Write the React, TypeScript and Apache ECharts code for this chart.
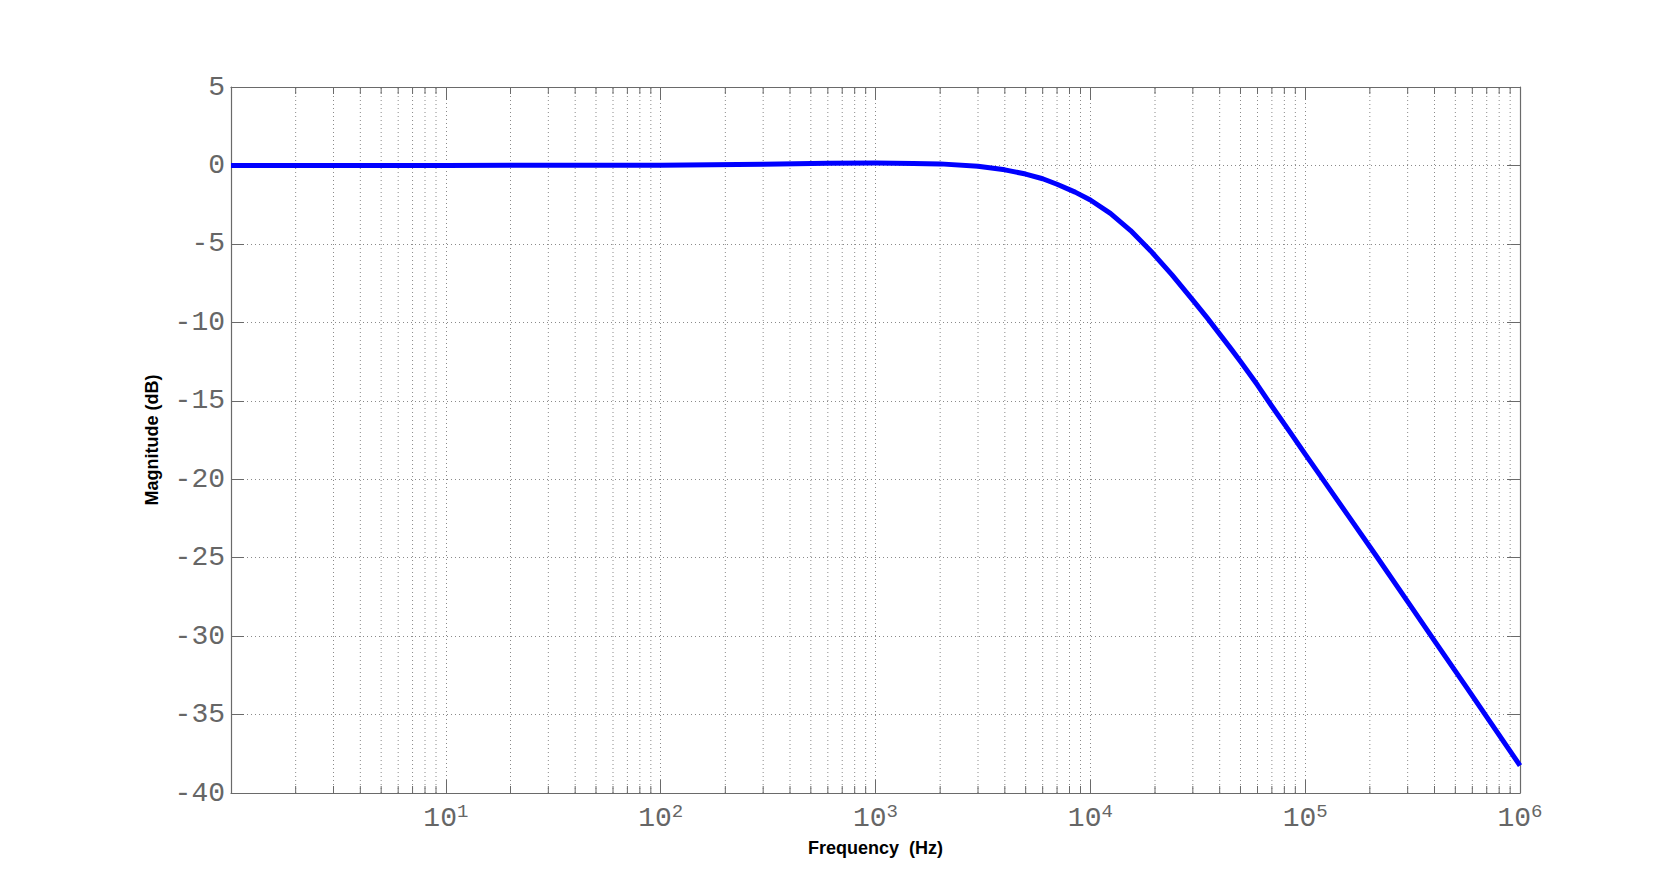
import React, { useEffect, useRef } from "react";
import * as echarts from "echarts";

// Frequency (Hz) and magnitude (dB)
const freqs = [1, 10, 100, 300, 600, 1000, 1500, 2000, 3000, 4000, 5000, 6000, 7000, 8500, 10000, 12400, 15400, 19100, 24000, 30000, 35000, 40000, 45000, 50000, 60000, 70000, 85000, 100000, 125000, 160000, 212000, 300000, 400000, 560000, 700000, 1000000];
const magnitudes = [0, 0, 0.02, 0.08, 0.14, 0.15, 0.13, 0.1, -0.05, -0.28, -0.55, -0.85, -1.2, -1.7, -2.2, -3.05, -4.15, -5.45, -6.97, -8.58, -9.72, -10.75, -11.66, -12.5, -14.0, -15.35, -17.0, -18.4, -20.3, -22.4, -24.8, -27.8, -30.3, -33.2, -35.15, -38.25];

// Minor log ticks
const decades = [1, 10, 100, 1000, 10000, 100000];
const mantissas = [2, 3, 4, 5, 6, 7, 8, 9];
const minorTicks: number[] = [];
decades.forEach((d) => mantissas.forEach((m) => minorTicks.push(m * d)));

const Y_MIN = -40;
const Y_MAX = 5;
const Y_STEP = 5;

const AXIS_COLOR = "#6a6a6a";
const GRID_COLOR = "#8a8a8a";
const LABEL_COLOR = "#666666";
const MONO = "'Liberation Mono', 'DejaVu Sans Mono', monospace";
const SANS = "'Liberation Sans', Arial, sans-serif";

export default function App() {
  const ref = useRef<HTMLDivElement>(null);
  useEffect(() => {
    if (!ref.current) return;
    const chart = echarts.init(ref.current, undefined, { renderer: "svg" });
    const gridDash = { color: GRID_COLOR, width: 1, type: [1, 3] as any };
    const xBase: any = {
      type: "log",
      logBase: 10,
      min: 1,
      max: 1e6,
      axisLine: { show: true, onZero: false, lineStyle: { color: AXIS_COLOR, width: 1.2 } },
      axisTick: { show: true, inside: true, length: 13, lineStyle: { color: AXIS_COLOR, width: 1 } },
    };
    const yBase: any = {
      type: "value",
      min: Y_MIN,
      max: Y_MAX,
      interval: Y_STEP,
      axisLine: { show: true, onZero: false, lineStyle: { color: AXIS_COLOR, width: 1.2 } },
      axisTick: { show: true, inside: true, length: 13, lineStyle: { color: AXIS_COLOR, width: 1 } },
    };
    const option: any = {
      animation: false,
      backgroundColor: "#ffffff",
      grid: { left: 231, top: 87, right: 160, bottom: 98, containLabel: false },
      xAxis: [
        {
          ...xBase,
          position: "bottom",
          name: "Frequency  (Hz)",
          nameLocation: "middle",
          nameGap: 46,
          nameTextStyle: { fontFamily: SANS, fontWeight: "bold", fontSize: 18, color: "#000" },
          splitLine: { show: true, lineStyle: gridDash },
          axisLabel: {
            show: true,
            margin: 9,
            formatter: (v: number) => {
              const e = Math.round(Math.log10(v));
              if (e <= 0) return "";
              return `{b|10}{s|${e}}`;
            },
            rich: {
              b: { fontFamily: MONO, fontSize: 28, color: LABEL_COLOR, lineHeight: 30, verticalAlign: "bottom" },
              s: { fontFamily: MONO, fontSize: 19, color: LABEL_COLOR, lineHeight: 20, verticalAlign: "top" },
            },
          },
        },
        {
          ...xBase,
          position: "top",
          splitLine: { show: false },
          axisLabel: { show: false },
        },
      ],
      yAxis: [
        {
          ...yBase,
          position: "left",
          name: "Magnitude (dB)",
          nameLocation: "middle",
          nameGap: 70,
          nameTextStyle: { fontFamily: SANS, fontWeight: "bold", fontSize: 18, color: "#000" },
          splitLine: { show: true, lineStyle: gridDash },
          axisLabel: { show: true, margin: 6, fontFamily: MONO, fontSize: 28, color: LABEL_COLOR },
        },
        {
          ...yBase,
          position: "right",
          splitLine: { show: false },
          axisLabel: { show: false },
        },
      ],
      series: [
        {
          type: "custom",
          xAxisIndex: 0,
          yAxisIndex: 0,
          silent: true,
          clip: false,
          z: 1,
          data: minorTicks.map((f) => [f]),
          renderItem: (params: any, api: any) => {
            const f = api.value(0);
            const bottom = api.coord([f, Y_MIN]);
            const top = api.coord([f, Y_MAX]);
            return {
              type: "group",
              children: [
                {
                  type: "line",
                  shape: { x1: bottom[0], y1: bottom[1], x2: top[0], y2: top[1] },
                  style: { stroke: GRID_COLOR, lineWidth: 1, lineDash: [1, 3] },
                },
                {
                  type: "line",
                  shape: { x1: bottom[0], y1: bottom[1], x2: bottom[0], y2: bottom[1] - 7 },
                  style: { stroke: AXIS_COLOR, lineWidth: 1 },
                },
                {
                  type: "line",
                  shape: { x1: top[0], y1: top[1], x2: top[0], y2: top[1] + 7 },
                  style: { stroke: AXIS_COLOR, lineWidth: 1 },
                },
              ],
            };
          },
        },
        {
          type: "line",
          xAxisIndex: 0,
          yAxisIndex: 0,
          data: freqs.map((f, i) => [f, magnitudes[i]]),
          smooth: false,
          showSymbol: false,
          symbol: "none",
          z: 5,
          lineStyle: { color: "#0000ff", width: 5, join: "round" },
        },
      ],
    };
    chart.setOption(option);
    return () => chart.dispose();
  }, []);
  return (
    <div
      ref={ref}
      style={{ position: "absolute", left: 0, top: 0, width: 1680, height: 891, background: "#fff" }}
    />
  );
}
